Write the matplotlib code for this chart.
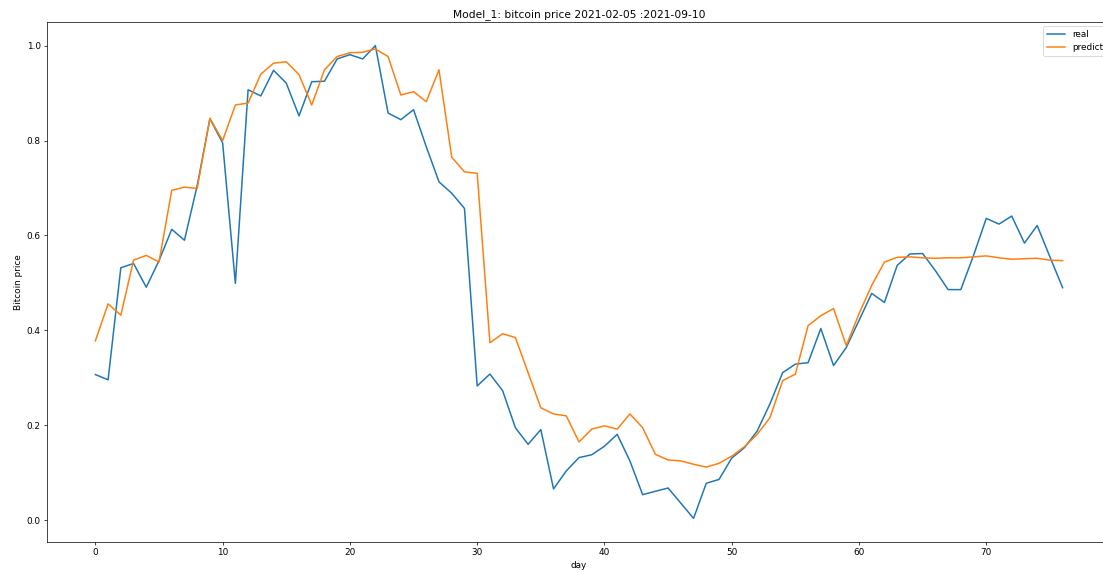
import matplotlib
matplotlib.use("Agg")
import matplotlib.pyplot as plt

days = list(range(77))

real = [0.307, 0.296, 0.532, 0.541, 0.491, 0.547, 0.613, 0.590, 0.705, 0.846,
        0.795, 0.499, 0.907, 0.894, 0.948, 0.921, 0.852, 0.924, 0.925, 0.972,
        0.981, 0.972, 1.000, 0.858, 0.844, 0.865, 0.787, 0.713, 0.689, 0.657,
        0.283, 0.308, 0.273, 0.195, 0.160, 0.191, 0.066, 0.104, 0.132, 0.138,
        0.156, 0.181, 0.125, 0.054, 0.061, 0.068, 0.036, 0.004, 0.078, 0.086,
        0.131, 0.153, 0.188, 0.245, 0.311, 0.329, 0.332, 0.404, 0.326, 0.364,
        0.421, 0.478, 0.459, 0.537, 0.561, 0.562, 0.526, 0.486, 0.486, 0.558,
        0.636, 0.624, 0.641, 0.584, 0.621, 0.555, 0.490]

predict = [0.378, 0.456, 0.432, 0.548, 0.558, 0.544, 0.695, 0.702, 0.699, 0.847,
           0.800, 0.875, 0.879, 0.940, 0.963, 0.966, 0.939, 0.875, 0.949, 0.977,
           0.985, 0.986, 0.993, 0.977, 0.896, 0.903, 0.882, 0.949, 0.765, 0.734,
           0.731, 0.374, 0.393, 0.385, 0.311, 0.237, 0.224, 0.220, 0.165, 0.192,
           0.199, 0.192, 0.224, 0.195, 0.139, 0.127, 0.125, 0.118, 0.112, 0.120,
           0.135, 0.155, 0.181, 0.216, 0.294, 0.308, 0.410, 0.431, 0.446, 0.368,
           0.435, 0.495, 0.544, 0.554, 0.555, 0.553, 0.552, 0.553, 0.553, 0.555,
           0.557, 0.553, 0.550, 0.551, 0.552, 0.548, 0.547]

DPI = 64
W, H = 1103, 573
fig = plt.figure(figsize=(W / DPI, H / DPI), dpi=DPI)
ax = fig.add_axes([47 / W, 31 / H, 1064 / W, 520 / H])

ax.plot(days, real, label="real", linewidth=1.7)
ax.plot(days, predict, label="predict", linewidth=1.7)
ax.set_title("Model_1: bitcoin price 2021-02-05 :2021-09-10")
ax.set_xlabel("day")
ax.set_ylabel("Bitcoin price")
ax.spines["right"].set_visible(False)
ax.legend(loc="upper right")

fig.savefig("out.png", dpi=DPI)
